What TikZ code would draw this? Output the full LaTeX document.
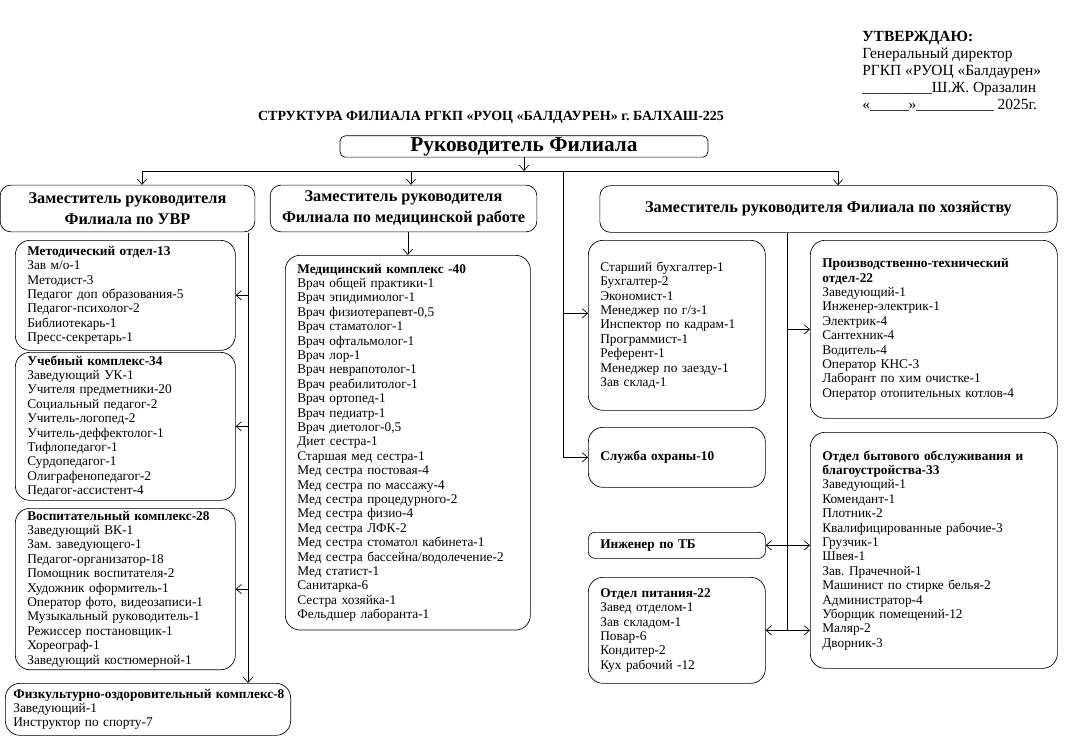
\documentclass[tikz,border=0pt]{standalone}
\usepackage{fontspec}
\setmainfont{Liberation Serif}
\usepackage{tikz}
\usetikzlibrary{arrows.meta,calc,positioning}
\frenchspacing
\tikzset{
  chief/.style={draw, rounded corners=4pt, font=\fontsize{16}{18}\selectfont\bfseries,
        minimum width=276pt, minimum height=16pt, inner sep=0pt},
  deputy/.style={draw, rounded corners=8pt, align=center,
        font=\fontsize{12.2}{15.5}\selectfont\bfseries, minimum height=35pt, inner sep=1pt},
  unit/.style n args={3}{draw, rounded corners=11pt, align=left, anchor=north west,
        font=\fontsize{10}{10.8}\selectfont, inner xsep=9pt, inner ysep=2pt,
        minimum width=#1, text width=#2, minimum height=#3},
  arr/.style={-{Straight Barb[length=4pt,width=7pt]}, line width=0.5pt},
  dblarr/.style={{Straight Barb[length=4pt,width=7pt]}-{Straight Barb[length=4pt,width=7pt]}, line width=0.5pt},
}

\begin{document}
\begin{tikzpicture}[x=0.75pt, y=-0.75pt, line width=0.5pt]
  \useasboundingbox (0,0) rectangle (1085,756);
  % approval block
  \node[anchor=north west, align=left, font=\fontsize{11.6}{12.75}\selectfont, inner sep=0pt] (appr) at (862,31)
    {\textbf{УТВЕРЖДАЮ:}\\Генеральный директор\\РГКП «РУОЦ «Балдаурен»\\
     \_\_\_\_\_\_\_\_\_Ш.Ж. Оразалин\\«\_\_\_\_\_»\_\_\_\_\_\_\_\_\_\_ 2025г.};
  % title and head
  \node[font=\fontsize{10.5}{12}\selectfont\bfseries] (title) at (491,117)
    {СТРУКТУРА ФИЛИАЛА РГКП «РУОЦ «БАЛДАУРЕН» г. БАЛХАШ-225};
  \node[chief] (boss) at (524,146.5) {Руководитель Филиала};
  % deputies
  \node[deputy, minimum width=191pt] (dUvr) at (127.5,208.5) {Заместитель руководителя\\Филиала по УВР};
  \node[deputy, minimum width=200pt] (dMed) at (403.5,208.5) {Заместитель руководителя\\Филиала по медицинской работе};
  \node[deputy, minimum width=343pt] (dEco) at (828.5,209) {Заместитель руководителя Филиала по хозяйству};
  % left column (УВР)
  \node[unit={165pt}{147pt}{82.5pt}] (metod) at (15,240)
    {\textbf{Методический отдел-13}\\Зав м/о-1\\Методист-3\\Педагог доп образования-5\\Педагог-психолог-2\\
     Библиотекарь-1\\Пресс-секретарь-1};
  \node[unit={165pt}{147pt}{111pt}] (ucheb) at (15,352)
    {\textbf{Учебный комплекс-34}\\Заведующий УК-1\\Учителя предметники-20\\Социальный педагог-2\\
     Учитель-логопед-2\\Учитель-деффектолог-1\\Тифлопедагог-1\\Сурдопедагог-1\\Олиграфенопедагог-2\\
     Педагог-ассистент-4};
  \node[unit={165pt}{147pt}{120pt}] (vosp) at (15,508)
    {\textbf{Воспитательный комплекс-28}\\Заведующий ВК-1\\Зам. заведующего-1\\Педагог-организатор-18\\
     Помощник воспитателя-2\\Художник оформитель-1\\Оператор фото, видеозаписи-1\\
     Музыкальный руководитель-1\\Режиссер постановщик-1\\Хореограф-1\\Заведующий костюмерной-1};
  \node[unit={214pt}{202pt}{39pt}, inner xsep=6pt] (fizk) at (5,683)
    {\mbox{\textbf{Физкультурно-оздоровительный комплекс-8}}\\Заведующий-1\\Инструктор по спорту-7};
  % medical column
  \node[unit={183.75pt}{165.75pt}{281pt}] (medk) at (285,255)
    {\textbf{Медицинский комплекс -40}\\Врач общей практики-1\\Врач эпидимиолог-1\\Врач физиотерапевт-0,5\\
     Врач стаматолог-1\\Врач офтальмолог-1\\Врач лор-1\\Врач неврапотолог-1\\Врач реабилитолог-1\\
     Врач ортопед-1\\Врач педиатр-1\\Врач диетолог-0,5\\Диет сестра-1\\Старшая мед сестра-1\\
     Мед сестра постовая-4\\Мед сестра по массажу-4\\Мед сестра процедурного-2\\Мед сестра физио-4\\
     Мед сестра ЛФК-2\\Мед сестра стоматол кабинета-1\\Мед сестра бассейна/водолечение-2\\
     Мед статист-1\\Санитарка-6\\Сестра хозяйка-1\\Фельдшер лаборанта-1};
  % economy, inner column
  \node[unit={132.75pt}{114.75pt}{127.5pt}] (buh) at (588,240)
    {Старший бухгалтер-1\\Бухгалтер-2\\Экономист-1\\Менеджер по г/з-1\\Инспектор по кадрам-1\\
     Программист-1\\Референт-1\\Менеджер по заезду-1\\Зав склад-1};
  \node[unit={132.75pt}{114.75pt}{45pt}] (ohrana) at (588,427) {\textbf{Служба охраны-10}};
  \node[unit={132.75pt}{114.75pt}{19.5pt}, rounded corners=5pt] (ingTB) at (588,532) {\textbf{Инженер по ТБ}};
  \node[unit={132.75pt}{114.75pt}{79.5pt}] (pitan) at (588,577)
    {\textbf{Отдел питания-22}\\Завед отделом-1\\Зав складом-1\\Повар-6\\Кондитер-2\\Кух рабочий -12};
  % economy, outer column
  \node[unit={185.25pt}{167.25pt}{133.5pt}] (prod) at (810,240)
    {\textbf{Производственно-технический}\\\textbf{отдел-22}\\Заведующий-1\\Инженер-электрик-1\\
     Электрик-4\\Сантехник-4\\Водитель-4\\Оператор КНС-3\\Лаборант по хим очистке-1\\
     Оператор отопительных котлов-4};
  \node[unit={185.25pt}{167.25pt}{177pt}] (byt) at (810,432)
    {\textbf{Отдел бытового обслуживания и}\\\textbf{благоустройства-33}\\Заведующий-1\\Комендант-1\\
     Плотник-2\\Квалифицированные рабочие-3\\Грузчик-1\\Швея-1\\Зав. Прачечной-1\\
     Машинист по стирке белья-2\\Администратор-4\\Уборщик помещений-12\\Маляр-2\\Дворник-3};
  % bus from the head
  \coordinate (busL) at (142,171);
  \coordinate (busM) at (411,171);
  \coordinate (busC) at (563,171);
  \coordinate (busR) at (838,171);
  \draw (busL) -- (busR);
  \draw[arr] (boss) -- (boss |- busL);
  \draw[arr] (busL) -- (busL |- dUvr.north);
  \draw[arr] (busM) -- (busM |- dMed.north);
  \draw[arr] (busR) -- (busR |- dEco.north);
  % left spine
  \coordinate (spL) at (248,232.5);
  \draw[arr] (spL) -- (spL |- fizk.north);
  \foreach \n in {metod,ucheb,vosp}
    \draw[arr] (spL |- \n.east) -- (\n.east);
  % medical
  \draw[arr] (medk.north |- dMed.south) -- (medk.north);
  % centre spine
  \coordinate (aBuh) at ([yshift=9pt]buh.west);
  \draw (busC) -- (busC |- ohrana.west);
  \draw[arr] (busC |- aBuh) -- (aBuh);
  \draw[arr] (busC |- ohrana.west) -- (ohrana.west);
  % right spine
  \coordinate (spR) at (787,232.5);
  \draw (spR) -- (spR |- pitan.east);
  \draw[arr] (spR |- prod.west) -- (prod.west);
  \draw[dblarr] (ingTB.east) -- (byt.west |- ingTB.east);
  \draw[dblarr] (pitan.east) -- (byt.west |- pitan.east);
\end{tikzpicture}
\end{document}
